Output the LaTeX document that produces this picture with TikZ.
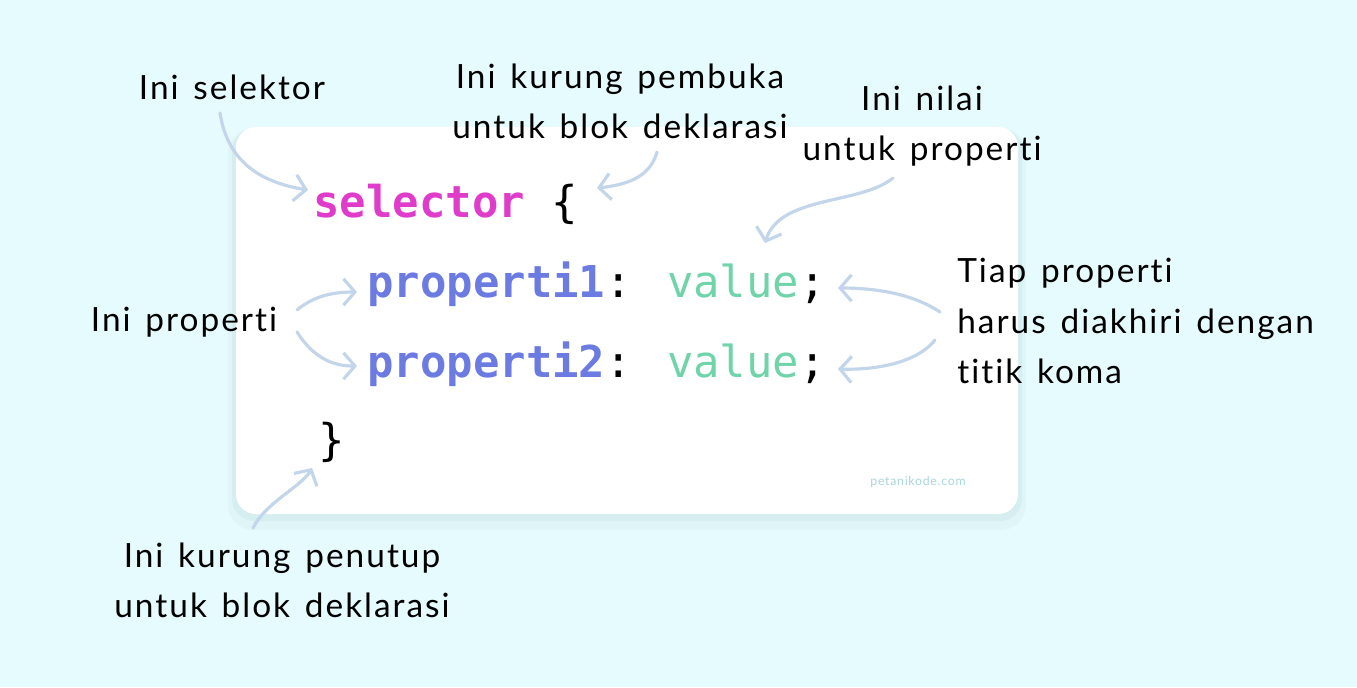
\documentclass[tikz,border=0pt]{standalone}
\usepackage{fontspec}
\setmainfont{Lato}[Ligatures=NoCommon, LetterSpace=6, WordSpace=1.4]
\newfontfamily\codefont{DejaVu Sans Mono}
\usetikzlibrary{arrows.meta, calc}
\definecolor{bgcyan}{HTML}{E6FBFD}
\definecolor{shadeout}{HTML}{DFF5F7}
\definecolor{shadein}{HTML}{D6EEF0}
\definecolor{arrowblue}{HTML}{C3D5EA}
\definecolor{selpink}{HTML}{E03CCB}
\definecolor{propblue}{HTML}{6B7BE2}
\definecolor{valgreen}{HTML}{70D4A9}
\definecolor{markteal}{HTML}{A6D6DE}

\begin{document}
\begin{tikzpicture}[
      x=0.02cm, y=-0.02cm,
      lbl/.style={align=center, inner sep=0pt, font=\fontsize{19}{28.5}\selectfont},
      code/.style={anchor=base west, inner sep=0pt, font=\codefont\fontsize{25}{30}\selectfont},
      arr/.style={-{Straight Barb[length=6.5pt, width=15pt]}, line width=1.8pt, arrowblue, line cap=round}
    ]
    % background and card
    \fill[bgcyan] (0,0) rectangle (1357,687);
    \useasboundingbox (0,0) rectangle (1357,687);
    \fill[shadeout, rounded corners=0.5cm] (228,129) rectangle (1026,530);
    \fill[shadein, rounded corners=0.45cm] (232,128) rectangle (1022,521);
    \fill[white, rounded corners=0.4cm] (236,127) rectangle (1018,514);

    % code lines
    \node[code] (codeSel) at (313,217) {\textcolor{selpink}{\bfseries selector} \{};
    \node[code] (codeP1) at (367,297) {\textcolor{propblue}{\bfseries properti1}: \textcolor{valgreen}{value};};
    \node[code] (codeP2) at (367,377) {\textcolor{propblue}{\bfseries properti2}: \textcolor{valgreen}{value};};
    \node[code] (codeEnd) at (318,455) {\}};
    \node[font=\fontsize{7}{9}\selectfont, text=markteal, inner sep=0pt] (mark) at (918,482) {petanikode.com};

    % labels
    \node[lbl] (lblSel) at (232,87) {Ini selektor};
    \node[lbl] (lblOpen) at (620,101) {Ini kurung pembuka\\untuk blok deklarasi};
    \node[lbl] (lblVal) at (922,126) {Ini nilai\\untuk properti};
    \node[lbl] (lblProp) at (184,322) {Ini properti};
    \node[lbl, align=left, anchor=west] (lblSemi) at (957,321) {Tiap properti\\harus diakhiri dengan\\titik koma};
    \node[lbl] (lblClose) at (282,580) {Ini kurung penutup\\untuk blok deklarasi};

    % arrows
    \draw[arr] ($(lblSel.center)+(-12,26)$) .. controls +(8,52) and +(-43,-7) .. ($(codeSel.base west)+(-5,-27)$);
    \draw[arr] ($(lblOpen.center)+(37,51)$) .. controls +(-7,26) and +(28,-3) .. ($(codeSel.base west)+(284,-29)$);
    \draw[arr] ($(lblVal.center)+(-29,52)$) .. controls +(-33,27) and +(15,-48) .. ($(codeP1.base west)+(398,-54)$);
    \draw[arr] ($(lblProp.center)+(113,-12)$) .. controls +(18,-15) and +(-22,0) .. ($(codeP1.base west)+(-10,-5)$);
    \draw[arr] ($(lblProp.center)+(113,10)$) .. controls +(18,28) and +(-22,0) .. ($(codeP2.base west)+(-10,-11)$);
    \draw[arr] ($(lblSemi.west)+(-17,-9)$) .. controls +(-30,-20) and +(32,0) .. ($(codeP1.base west)+(471,-9)$);
    \draw[arr] ($(lblSemi.west)+(-22,19)$) .. controls +(-20,25) and +(32,1) .. ($(codeP2.base west)+(471,-8)$);
    \draw[arr] ($(lblClose.center)+(-29,-52)$) .. controls +(12,-25) and +(-10,18) .. ($(codeEnd.base west)+(-6,13)$);
\end{tikzpicture}
\end{document}
